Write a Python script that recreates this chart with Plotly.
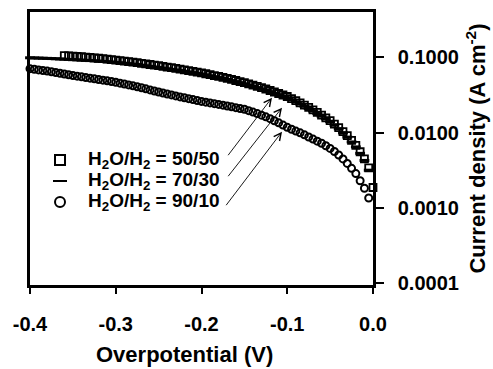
import plotly.graph_objects as go

# Overpotential grid (V)
overpotential = [
    -0.400, -0.395, -0.390, -0.385, -0.380, -0.375, -0.370, -0.365, -0.360, -0.355,
    -0.350, -0.345, -0.340, -0.335, -0.330, -0.325, -0.320, -0.315, -0.310, -0.305,
    -0.300, -0.295, -0.290, -0.285, -0.280, -0.275, -0.270, -0.265, -0.260, -0.255,
    -0.250, -0.245, -0.240, -0.235, -0.230, -0.225, -0.220, -0.215, -0.210, -0.205,
    -0.200, -0.195, -0.190, -0.185, -0.180, -0.175, -0.170, -0.165, -0.160, -0.155,
    -0.150, -0.145, -0.140, -0.135, -0.130, -0.125, -0.120, -0.115, -0.110, -0.105,
    -0.100, -0.095, -0.090, -0.085, -0.080, -0.075, -0.070, -0.065, -0.060, -0.055,
    -0.050, -0.045, -0.040, -0.035, -0.030, -0.025, -0.020, -0.015, -0.010, -0.005,
    0.000,
]

x_5050 = overpotential[8:]    # -0.360 .. 0.000
x_7030 = overpotential[:80]   # -0.400 .. -0.005
x_9010 = overpotential[:80]   # -0.400 .. -0.005

# log10 of current density (A cm^-2)
logj_5050 = [
    -0.975, -0.979, -0.983, -0.987, -0.991, -0.996, -1.001, -1.006, -1.011, -1.017,
    -1.023, -1.029, -1.035, -1.042, -1.049, -1.056, -1.063, -1.070, -1.078, -1.086,
    -1.094, -1.102, -1.110, -1.119, -1.128, -1.137, -1.146, -1.155, -1.165, -1.175,
    -1.185, -1.195, -1.205, -1.217, -1.229, -1.241, -1.253, -1.265, -1.279, -1.293,
    -1.307, -1.321, -1.335, -1.352, -1.369, -1.386, -1.403, -1.420, -1.440, -1.460,
    -1.480, -1.500, -1.520, -1.548, -1.576, -1.605, -1.635, -1.665, -1.698, -1.732,
    -1.767, -1.803, -1.840, -1.886, -1.933, -1.986, -2.041, -2.104, -2.170, -2.255,
    -2.350, -2.470, -2.730,
]

logj_7030 = [
    -1.005, -1.007, -1.009, -1.011, -1.013, -1.015, -1.018, -1.021, -1.024, -1.027,
    -1.030, -1.033, -1.036, -1.039, -1.042, -1.045, -1.049, -1.053, -1.057, -1.061,
    -1.065, -1.071, -1.077, -1.083, -1.089, -1.095, -1.103, -1.111, -1.119, -1.127,
    -1.135, -1.143, -1.151, -1.159, -1.167, -1.175, -1.184, -1.193, -1.202, -1.211,
    -1.220, -1.232, -1.244, -1.256, -1.268, -1.280, -1.294, -1.308, -1.322, -1.336,
    -1.350, -1.367, -1.384, -1.401, -1.418, -1.435, -1.455, -1.475, -1.495, -1.515,
    -1.535, -1.563, -1.591, -1.620, -1.650, -1.680, -1.713, -1.747, -1.782, -1.818,
    -1.855, -1.902, -1.950, -2.004, -2.060, -2.124, -2.190, -2.276, -2.370, -2.500,
]

logj_9010 = [
    -1.150, -1.158, -1.166, -1.174, -1.182, -1.190, -1.200, -1.210, -1.220, -1.230,
    -1.240, -1.249, -1.258, -1.267, -1.276, -1.285, -1.294, -1.303, -1.312, -1.321,
    -1.330, -1.342, -1.354, -1.366, -1.378, -1.390, -1.404, -1.418, -1.432, -1.446,
    -1.460, -1.473, -1.486, -1.499, -1.512, -1.525, -1.537, -1.549, -1.561, -1.573,
    -1.585, -1.595, -1.605, -1.615, -1.625, -1.635, -1.646, -1.657, -1.668, -1.679,
    -1.690, -1.708, -1.727, -1.747, -1.768, -1.790, -1.815, -1.842, -1.870, -1.900,
    -1.930, -1.955, -1.980, -2.003, -2.030, -2.058, -2.086, -2.114, -2.142, -2.175,
    -2.210, -2.252, -2.298, -2.350, -2.410, -2.475, -2.545, -2.640, -2.740, -2.870,
]

j_5050 = [10 ** v for v in logj_5050]
j_7030 = [10 ** v for v in logj_7030]
j_9010 = [10 ** v for v in logj_9010]

series_names = [
    "H<sub>2</sub>O/H<sub>2</sub> = 50/50",
    "H<sub>2</sub>O/H<sub>2</sub> = 70/30",
    "H<sub>2</sub>O/H<sub>2</sub> = 90/10",
]
x_ticks = [-0.4, -0.3, -0.2, -0.1, 0.0]
x_ticktext = ["-0.4", "-0.3", "-0.2", "-0.1", "0.0"]
y_ticks = [0.0001, 0.001, 0.01, 0.1]
y_ticktext = ["0.0001", "0.0010", "0.0100", "0.1000"]
x_title = "Overpotential (V)"
y_title = "Current density (A cm<sup>-2</sup>)"

FONT = "Liberation Sans, Arial, sans-serif"
fig = go.Figure()

fig.add_trace(go.Scatter(
    x=x_9010, y=j_9010, mode="markers", cliponaxis=False, showlegend=False,
    marker=dict(symbol="circle-open", size=7, color="black", line=dict(width=2, color="black")),
))
fig.add_trace(go.Scatter(
    x=x_7030, y=j_7030, mode="markers", cliponaxis=False, showlegend=False,
    marker=dict(symbol="line-ew", size=7, color="black", line=dict(width=3, color="black")),
))
fig.add_trace(go.Scatter(
    x=x_5050, y=j_5050, mode="markers", cliponaxis=False, showlegend=False,
    marker=dict(symbol="square-open", size=7, color="black", line=dict(width=1.8, color="black")),
))

# Manual legend: symbols on an overlay axis in plot-fraction units
legend_y = [0.458, 0.381, 0.304]
legend_symbols = ["square-open", "line-ew", "circle-open"]
for yy, sym in zip(legend_y, legend_symbols):
    fig.add_trace(go.Scatter(
        x=[0.0875], y=[yy], xaxis="x2", yaxis="y2", mode="markers", showlegend=False,
        marker=dict(symbol=sym, size=10, color="black", line=dict(width=2, color="black")),
    ))

annotations = []
for yy, name in zip(legend_y, series_names):
    annotations.append(dict(
        x=0.163, y=yy, xref="paper", yref="paper", xanchor="left", yanchor="middle",
        text=name, showarrow=False,
        font=dict(family=FONT, size=19, color="black", weight="bold"),
    ))

# Arrows from legend labels to curves (heads at data positions; y in log10 units)
arrow_heads = [(-0.1178, -1.536), (-0.1061, -1.669), (-0.1061, -1.988)]
arrow_tails = [(-45, 59), (-55, 70), (-57, 75)]
for (hx, hy), (ax, ay) in zip(arrow_heads, arrow_tails):
    annotations.append(dict(
        x=hx, y=hy, xref="x", yref="y", ax=ax, ay=ay, text="",
        showarrow=True, arrowhead=5, arrowsize=1.6, arrowwidth=0.9, arrowcolor="black",
    ))

# x-axis title (placed as an annotation to match the reference's offset)
annotations.append(dict(
    x=0.449, y=-0.256, xref="paper", yref="paper", xanchor="center", yanchor="middle",
    text=x_title, showarrow=False, borderpad=0,
    font=dict(family=FONT, size=22, color="black", weight="bold"),
))

fig.update_layout(
    width=493, height=369,
    margin=dict(l=30, r=120, t=12, b=84),
    paper_bgcolor="white", plot_bgcolor="white",
    showlegend=False,
    font=dict(family=FONT, color="black"),
    annotations=annotations,
    xaxis=dict(
        range=[-0.4, 0.0], tickvals=x_ticks, ticktext=x_ticktext, automargin=False,
        showline=True, linecolor="black", linewidth=2.5, mirror=True,
        ticks="outside", ticklen=6, tickwidth=2, tickcolor="black",
        showgrid=False, zeroline=False,
        tickfont=dict(family=FONT, size=20, color="black", weight="bold"),
        ticklabelstandoff=13,
    ),
    yaxis=dict(
        type="log", range=[-4.027, -0.396], side="right", automargin=False,
        tickvals=y_ticks, ticktext=y_ticktext,
        showline=True, linecolor="black", linewidth=2.5, mirror=True,
        ticks="outside", ticklen=8, tickwidth=2, tickcolor="black",
        showgrid=False, zeroline=False,
        tickfont=dict(family=FONT, size=20, color="black", weight="bold"),
        ticklabelstandoff=10,
        title=dict(text=y_title, standoff=12,
                   font=dict(family=FONT, size=22, color="black", weight="bold")),
    ),
    xaxis2=dict(overlaying="x", range=[0, 1], visible=False),
    yaxis2=dict(overlaying="y", range=[0, 1], visible=False),
)

fig.write_html("out.html", config={"displayModeBar": False},
               post_script="document.body.style.margin='0px';")
